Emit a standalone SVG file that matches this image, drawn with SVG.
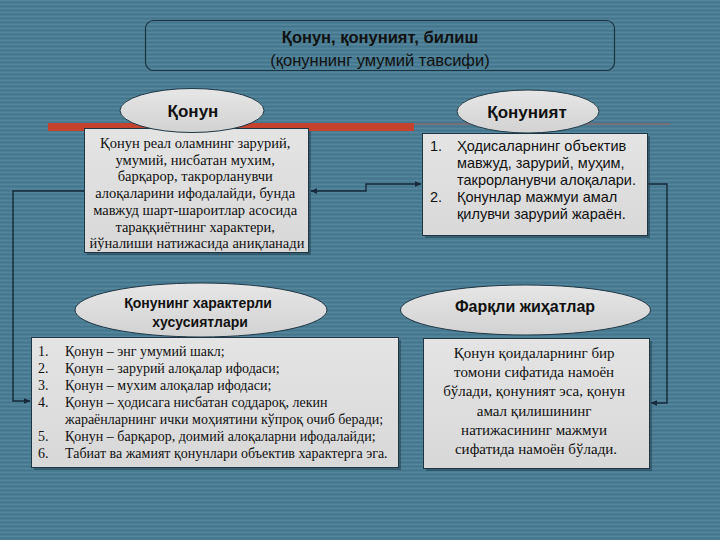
<svg xmlns="http://www.w3.org/2000/svg" width="720" height="540" viewBox="0 0 720 540">
<defs>
<pattern id="stripes" width="8" height="4" patternUnits="userSpaceOnUse">
<rect width="8" height="4" fill="#4a7d94"/>
<rect y="0" width="8" height="1" fill="#5b8ca2" opacity="0.6"/>
<rect y="2" width="8" height="1" fill="#40738a" opacity="0.6"/>
</pattern>
<linearGradient id="boxg" x1="0" y1="0" x2="0" y2="1">
<stop offset="0" stop-color="#e4e4e4"/>
<stop offset="1" stop-color="#d8d8d8"/>
</linearGradient>
<linearGradient id="ellg" x1="0" y1="0" x2="0" y2="1">
<stop offset="0" stop-color="#e6e6e6"/>
<stop offset="1" stop-color="#d2d2d2"/>
</linearGradient>
<marker id="arr" viewBox="0 0 10 10" refX="9" refY="5" markerWidth="7" markerHeight="7" orient="auto-start-reverse" markerUnits="userSpaceOnUse">
<path d="M0,1 L10,5 L0,9 z" fill="#16283a"/>
</marker>
<style>
.box{fill:url(#boxg);stroke:#1f3644;stroke-width:1}
.shadow{fill:#24404e;opacity:0.55}
.ell{fill:url(#ellg);stroke:#1f3644;stroke-width:1}
.conn{fill:none;stroke:#16283a;stroke-width:1.4}
.serif{font-family:"Liberation Serif","Times New Roman",serif;fill:#111}
.sans{font-family:"Liberation Sans",Arial,sans-serif;fill:#111}
.bold{font-family:"Liberation Sans",Arial,sans-serif;font-weight:bold;fill:#111}
</style>
</defs>
<rect width="720" height="540" fill="url(#stripes)"/>

<g id="title">
<rect x="145.5" y="20.5" width="469" height="50" rx="8" fill="none" stroke="#1b3240" stroke-width="1.2"/>
<text class="bold" x="380" y="43" font-size="16.5" text-anchor="middle">Қонун, қонуният, билиш</text>
<text class="sans" x="380" y="66" font-size="16.5" text-anchor="middle">(қонуннинг умумий тавсифи)</text>
</g>

<g id="divider">
<rect x="48" y="123" width="366" height="8" fill="#c4422e"/>
<line x1="414" y1="124" x2="670" y2="124" stroke="#b4574a" stroke-width="1.2" opacity="0.8"/>
</g>

<g id="connectors">
<path class="conn" d="M84,191 H13 V401 H30" marker-end="url(#arr)"/>
<path class="conn" d="M311,191 H366 V184 H421" marker-start="url(#arr)" marker-end="url(#arr)"/>
<path class="conn" d="M647,184 H667 V403 H651" marker-end="url(#arr)"/>
</g>

<g id="qonun-box">
<rect class="shadow" x="87" y="131" width="224" height="124"/>
<rect class="box" x="84.5" y="128.5" width="224" height="124"/>
<text class="serif" font-size="14.5" text-anchor="middle">
<tspan x="197" y="148">Қонун реал оламнинг зарурий,</tspan>
<tspan x="197" y="164.7">умумий, нисбатан мухим,</tspan>
<tspan x="197" y="181.4">барқарор, такрорланувчи</tspan>
<tspan x="197" y="198.1">алоқаларини ифодалайди, бунда</tspan>
<tspan x="197" y="214.8">мавжуд шарт-шароитлар асосида</tspan>
<tspan x="197" y="231.5">тараққиётнинг характери,</tspan>
<tspan x="197" y="248.2">йўналиши натижасида аниқланади</tspan>
</text>
</g>

<g id="qonuniyat-box">
<rect class="shadow" x="425" y="136" width="225" height="102"/>
<rect class="box" x="422.5" y="133.5" width="225" height="102"/>
<text class="sans" font-size="14.5">
<tspan x="430" y="151">1.</tspan><tspan x="457" y="151">Ҳодисаларнинг объектив</tspan>
<tspan x="457" y="168">мавжуд, зарурий, муҳим,</tspan>
<tspan x="457" y="185">такрорланувчи алоқалари.</tspan>
<tspan x="430" y="202">2.</tspan><tspan x="457" y="202">Қонунлар мажмуи амал</tspan>
<tspan x="457" y="219">қилувчи зарурий жараён.</tspan>
</text>
</g>

<g id="xususiyat-box">
<rect class="shadow" x="34" y="340" width="367" height="130"/>
<rect class="box" x="31.5" y="337.5" width="367" height="130"/>
<text class="serif" font-size="14">
<tspan x="38" y="356">1.</tspan><tspan x="65" y="356">Қонун – энг умумий шакл;</tspan>
<tspan x="38" y="373">2.</tspan><tspan x="65" y="373">Қонун – зарурий алоқалар ифодаси;</tspan>
<tspan x="38" y="390">3.</tspan><tspan x="65" y="390">Қонун – мухим алоқалар ифодаси;</tspan>
<tspan x="38" y="407">4.</tspan><tspan x="65" y="407">Қонун – ҳодисага нисбатан соддароқ, лекин</tspan>
<tspan x="65" y="424">жараёнларнинг ички моҳиятини кўпроқ очиб беради;</tspan>
<tspan x="38" y="441">5.</tspan><tspan x="65" y="441">Қонун – барқарор, доимий алоқаларни ифодалайди;</tspan>
<tspan x="38" y="458">6.</tspan><tspan x="65" y="458">Табиат ва жамият қонунлари объектив характерга эга.</tspan>
</text>
</g>

<g id="farq-box">
<rect class="shadow" x="426" y="341" width="226" height="130"/>
<rect class="box" x="423.5" y="338.5" width="226" height="130"/>
<text class="serif" font-size="15" text-anchor="middle">
<tspan x="536" y="358">Қонун қоидаларнинг бир</tspan>
<tspan x="536" y="377">томони сифатида намоён</tspan>
<tspan x="536" y="396">бўлади, қонуният эса, қонун</tspan>
<tspan x="536" y="415.5">амал қилишининг</tspan>
<tspan x="536" y="435">натижасининг мажмуи</tspan>
<tspan x="536" y="454">сифатида намоён бўлади.</tspan>
</text>
</g>

<g id="qonun-ellipse">
<ellipse class="ell" cx="192" cy="110.5" rx="72" ry="22"/>
<text class="bold" x="193" y="116.5" font-size="17" text-anchor="middle">Қонун</text>
</g>

<g id="qonuniyat-ellipse">
<ellipse class="ell" cx="528" cy="111.5" rx="71" ry="21.5"/>
<text class="bold" x="527" y="117.5" font-size="17" text-anchor="middle">Қонуният</text>
</g>

<g id="xususiyat-ellipse">
<ellipse class="ell" cx="201" cy="310" rx="126" ry="27"/>
<text class="bold" font-size="14" text-anchor="middle">
<tspan x="200" y="308">Қонунинг характерли</tspan>
<tspan x="200" y="327">хусусиятлари</tspan>
</text>
</g>

<g id="farq-ellipse">
<ellipse class="ell" cx="525.5" cy="310" rx="125" ry="25"/>
<text class="bold" x="525" y="311.5" font-size="16" text-anchor="middle">Фарқли жиҳатлар</text>
</g>
</svg>
